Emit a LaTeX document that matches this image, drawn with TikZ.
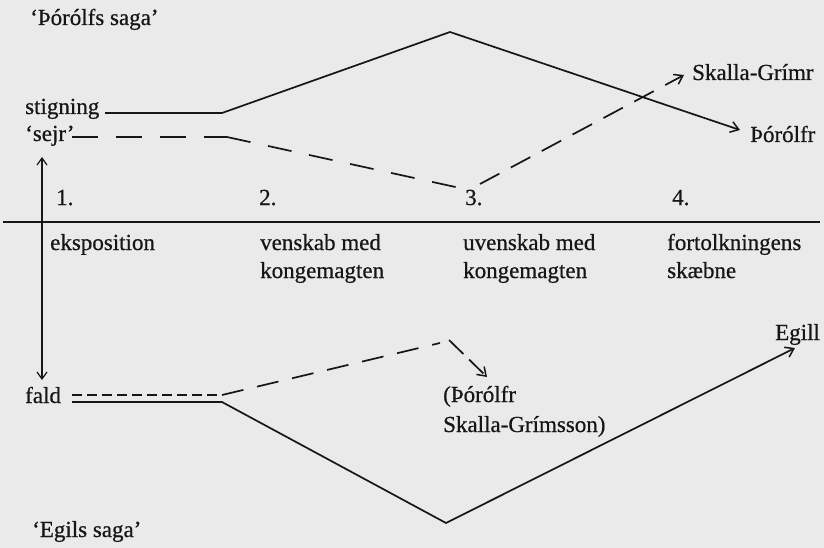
\documentclass[tikz,border=0pt]{standalone}
\usepackage{fontspec}
\setmainfont{Liberation Serif}[BoldFont=Liberation Serif, BoldFeatures={FakeBold=0.6}]
\usetikzlibrary{arrows.meta}
\definecolor{bg}{RGB}{234,234,234}
\definecolor{ink}{RGB}{22,22,22}
\begin{document}
\begin{tikzpicture}[x=1pt,y=-1pt,
  every node/.style={inner sep=0pt, text=ink, font=\fontsize{23}{28}\selectfont\bfseries},
  lbl/.style={anchor=base west},
  solidline/.style={draw=ink, line width=1.7pt, line join=miter},
  dashline/.style={draw=ink, line width=1.7pt, dash pattern=on 24pt off 18pt},
  shortdash/.style={draw=ink, line width=1.6pt, dash pattern=on 10pt off 5pt},
  tip/.style={-{Straight Barb[length=8pt,width=11pt,line width=1.5pt]}}]
\fill[bg] (0,0) rectangle (824,548);
\useasboundingbox (0,0) rectangle (824,548);
% titles and labels
\node[lbl] (tsaga) at (30,25) {‘Þórólfs saga’};
\node[lbl] (stig) at (25,114) {stigning};
\node[lbl] (sejr) at (25,141) {‘sejr’};
\node[lbl] (fald) at (25,403) {fald};
\node[lbl] (esaga) at (32,537) {‘Egils saga’};
\node[lbl] (sg) at (692,80) {Skalla-Grímr};
\node[lbl] (th) at (750,142) {Þórólfr};
\node[lbl] (eg) at (775,340) {Egill};
\node[lbl] (ths1) at (443,402) {(Þórólfr};
\node[lbl] (ths2) at (443,432) {Skalla-Grímsson)};
% numbers
\node[lbl] (n1) at (56,205) {1.};
\node[lbl] (n2) at (259,205) {2.};
\node[lbl] (n3) at (465,205) {3.};
\node[lbl] (n4) at (672,205) {4.};
% phase labels
\node[lbl] (p1) at (50,250) {eksposition};
\node[lbl] (p2a) at (260,250) {venskab med};
\node[lbl] (p2b) at (260,278) {kongemagten};
\node[lbl] (p3a) at (463,250) {uvenskab med};
\node[lbl] (p3b) at (463,278) {kongemagten};
\node[lbl] (p4a) at (667,250) {fortolkningens};
\node[lbl] (p4b) at (667,278) {skæbne};
% coordinates
\coordinate (hl) at (3,222);
\coordinate (hr) at (820,222);
\coordinate (vt) at (42,157);
\coordinate (vb) at (42,380);
\coordinate (us0) at (105,113);
\coordinate (us1) at (222,113);
\coordinate (usp) at (450,32);
\coordinate (ust) at (740,130);
\coordinate (ud0) at (72,137);
\coordinate (ud1) at (227,137);
\coordinate (ud2) at (460,188);
\coordinate (ud3) at (480,184);
\coordinate (udt) at (684,75);
\coordinate (ld0) at (72,395);
\coordinate (ld1) at (222,395);
\coordinate (ld2) at (440,343);
\coordinate (ld3) at (449,340);
\coordinate (ldt) at (487,377);
\coordinate (ls0) at (72,402);
\coordinate (ls1) at (222,402);
\coordinate (lsv) at (446,523);
\coordinate (lst) at (795,348);
% axis lines
\draw[solidline] (hl) -- (hr);
\draw[solidline, line width=1.3pt, {Straight Barb[length=7pt,width=10pt,line width=1.2pt]}-{Straight Barb[length=7pt,width=10pt,line width=1.2pt]}] (vt) -- (vb);
% upper curves
\draw[solidline, tip] (us0) -- (us1) -- (usp) -- (ust);
\draw[dashline, dash pattern=on 26pt off 18pt] (ud0) -- (ud1);
\draw[dashline] (ud1) -- (ud2);
\draw[dashline, dash pattern=on 22pt off 13pt, tip] (ud3) -- (udt);
% lower curves
\draw[shortdash] (ld0) -- (ld1);
\draw[dashline, dash pattern=on 22pt off 14pt] (ld1) -- (ld2);
\draw[dashline, dash pattern=on 20pt off 8pt, tip] (ld3) -- (ldt);
\draw[solidline, tip] (ls0) -- (ls1) -- (lsv) -- (lst);
\end{tikzpicture}
\end{document}
